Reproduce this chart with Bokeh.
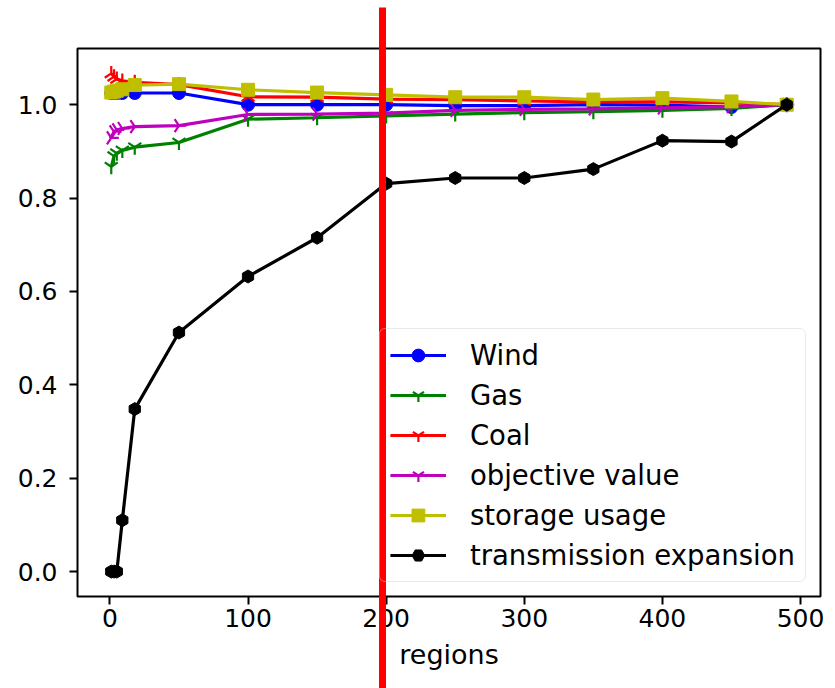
import math
from bokeh.plotting import figure
from bokeh.models import Range1d, Legend, LegendItem, LinearAxis, NumeralTickFormatter, FixedTicker
from bokeh.embed import file_html
from bokeh.resources import INLINE

# ---- data ----
regions = [1, 3, 5, 9, 18, 50, 100, 150, 200, 250, 300, 350, 400, 450, 490]
wind = [1.025, 1.025, 1.025, 1.025, 1.025, 1.025, 1.0, 1.0, 1.0, 0.998, 0.998, 1.0, 0.999, 0.995, 1.0]
gas = [0.867, 0.89, 0.896, 0.902, 0.909, 0.919, 0.969, 0.972, 0.976, 0.98, 0.983, 0.985, 0.988, 0.992, 1.0]
coal = [1.067, 1.06, 1.055, 1.051, 1.048, 1.043, 1.017, 1.016, 1.012, 1.011, 1.008, 1.006, 1.006, 1.004, 1.0]
objective = [0.929, 0.942, 0.946, 0.949, 0.953, 0.955, 0.979, 0.98, 0.982, 0.988, 0.99, 0.991, 0.993, 0.996, 1.0]
storage = [1.026, 1.028, 1.03, 1.033, 1.042, 1.044, 1.032, 1.026, 1.021, 1.016, 1.016, 1.011, 1.014, 1.007, 1.0]
transmission = [0.0, 0.0, 0.0, 0.11, 0.348, 0.512, 0.632, 0.715, 0.831, 0.843, 0.843, 0.862, 0.923, 0.921, 1.0]

series_names = ["Wind", "Gas", "Coal", "objective value", "storage usage", "transmission expansion"]
series_values = [wind, gas, coal, objective, storage, transmission]
x_ticks = [0, 100, 200, 300, 400, 500]
y_ticks = [0.0, 0.2, 0.4, 0.6, 0.8, 1.0]
highlight_x = [197]  # red vertical marker line position

# ---- styles ----
colors = ["#0000ff", "#008000", "#ff0000", "#bf00bf", "#bfbf00", "#000000"]
markers = ["circle", "y", "y", "y", "square", "hex"]
angles = [0, 0, math.pi, math.pi / 2, 0, math.pi / 2]
sizes = [13, 15, 15, 15, 13, 13]
FONT = "DejaVu Sans"
W, H = 835, 688
BL, BR, BT, BB = 77, 15, 48, 92

xmin, xmax = min(regions), max(regions)
allv = [v for s in series_values for v in s]
ymin, ymax = min(allv), max(allv)
xr, yr = xmax - xmin, ymax - ymin
y0, y1 = ymin - 0.05 * yr, ymax + 0.05 * yr

p = figure(width=W, height=H, output_backend="svg", toolbar_location=None,
           x_range=Range1d(xmin - 0.05 * xr, xmax + 0.05 * xr),
           y_range=Range1d(y0, y1))
p.min_border_left = BL
p.min_border_right = BR
p.min_border_top = BT
p.min_border_bottom = BB
p.background_fill_color = "white"
p.border_fill_color = "white"
p.outline_line_color = "black"
p.outline_line_width = 2
p.xgrid.visible = False
p.ygrid.visible = False

for ax in (p.xaxis[0], p.yaxis[0]):
    ax.axis_line_color = None
    ax.major_tick_in = 0
    ax.major_tick_out = 8
    ax.major_tick_line_width = 2
    ax.major_tick_line_color = "black"
    ax.minor_tick_line_color = None
    ax.major_label_text_font = FONT
    ax.major_label_text_font_size = "25px"
    ax.major_label_text_color = "black"

p.xaxis.ticker = FixedTicker(ticks=x_ticks)
p.yaxis.ticker = FixedTicker(ticks=y_ticks)
p.yaxis.formatter = NumeralTickFormatter(format="0.0")
p.xaxis.major_label_standoff = 4
p.yaxis.major_label_standoff = 12
p.xaxis.axis_label = "regions"
p.xaxis.axis_label_text_font = FONT
p.xaxis.axis_label_text_font_size = "27px"
p.xaxis.axis_label_text_font_style = "normal"
p.xaxis.axis_label_text_color = "black"
p.xaxis.axis_label_standoff = 9

items = []
for name, vals, c, m, a, s in zip(series_names, series_values, colors, markers, angles, sizes):
    lr = p.line(regions, vals, line_color=c, line_width=3.2)
    if m in ("circle", "square", "hex"):
        sr = p.scatter(regions, vals, marker=m, size=s, angle=a, fill_color=c, line_color=c)
    else:
        sr = p.scatter(regions, vals, marker=m, size=s, angle=a, line_color=c, line_width=2.2)
    items.append(LegendItem(label=name, renderers=[lr, sr]))

legend = Legend(items=items, location="bottom_right", margin=14, padding=10,
                spacing=8, glyph_width=56, glyph_height=32, label_height=32,
                label_standoff=24, label_text_font=FONT, label_text_font_size="27.5px",
                label_text_color="black", border_line_color="#d5d5d5", border_line_width=1.5,
                background_fill_color="white", background_fill_alpha=0.0)
legend.border_radius = 6
p.add_layout(legend)

# red vertical marker line: a single red tick of an extra top axis, drawn through the
# library's x scale, reaching from near the top of the page down to its bottom
marker_axis = LinearAxis(ticker=FixedTicker(ticks=highlight_x), axis_line_color=None,
                         major_tick_out=BT - 7, major_tick_in=H - BT,
                         major_tick_line_color="#ff0000", major_tick_line_width=7,
                         minor_tick_line_color=None,
                         major_label_overrides={highlight_x[0]: ""},
                         major_label_text_font_size="1px", major_label_text_color=None,
                         major_label_standoff=0, level="overlay")
p.add_layout(marker_axis, "above")

open("out.html", "w").write(file_html(p, INLINE))
